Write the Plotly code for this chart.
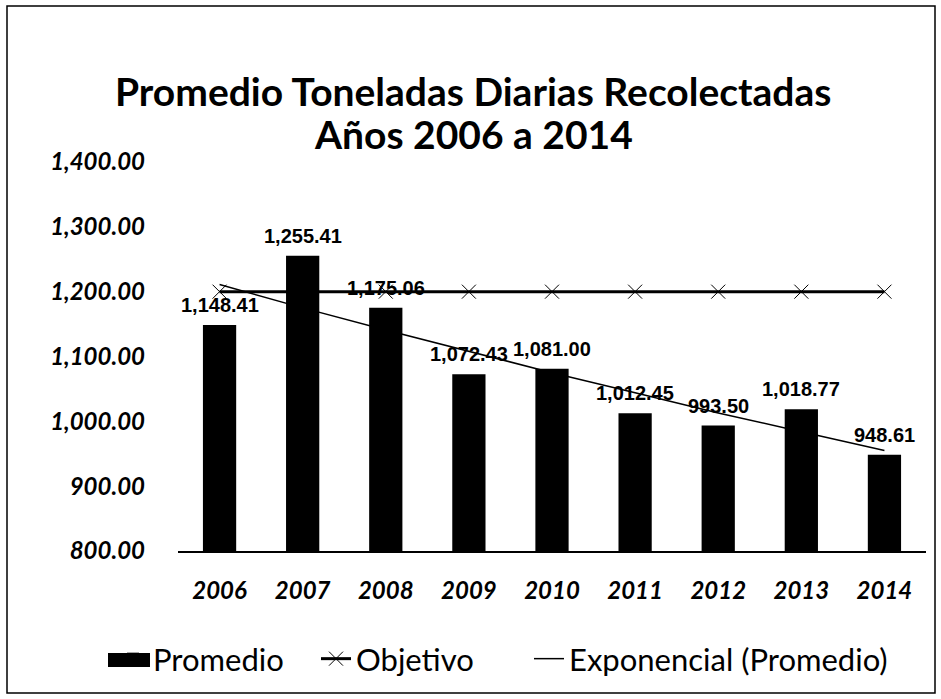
import plotly.graph_objects as go

years = ["2006", "2007", "2008", "2009", "2010", "2011", "2012", "2013", "2014"]
promedio = [1148.41, 1255.41, 1175.06, 1072.43, 1081.00, 1012.45, 993.50, 1018.77, 948.61]
objetivo = [1200, 1200, 1200, 1200, 1200, 1200, 1200, 1200, 1200]
exponencial = [1211, 1175, 1141, 1108, 1075, 1044, 1013, 984, 955]
promedio_labels = ["1,148.41", "1,255.41", "1,175.06", "1,072.43", "1,081.00",
                   "1,012.45", "993.50", "1,018.77", "948.61"]
y_ticks = [800, 900, 1000, 1100, 1200, 1300, 1400]
title_lines = ["Promedio Toneladas Diarias Recolectadas", "Años 2006 a 2014"]

W, H = 941, 699
L, R, T, B = 178, 15, 162, 148
pw = W - L - R
ph = H - T - B


def px_x(xpx):
    return (xpx - L) / pw


def px_y(ypx):
    return ((H - B) - ypx) / ph


fig = go.Figure()
fig.add_trace(go.Bar(x=years, y=promedio, name="Promedio", legend="legend",
                     marker=dict(color="black", line=dict(width=0))))
fig.add_trace(go.Scatter(x=years, y=objetivo, name="Objetivo", mode="lines+markers",
                         legend="legend2",
                         line=dict(color="black", width=3),
                         marker=dict(symbol="x-thin", size=14, color="black",
                                     line=dict(width=1, color="black"))))
fig.add_trace(go.Scatter(x=years, y=exponencial, name="Exponencial (Promedio)", mode="lines",
                         legend="legend3",
                         line=dict(color="black", width=1.5)))

for i, (v, t) in enumerate(zip(promedio, promedio_labels)):
    fig.add_annotation(x=i, y=v, text=t, showarrow=False, yanchor="middle", yshift=20,
                       font=dict(family="Liberation Sans", size=20, color="black", weight="bold"))

for line_text, ypx in zip(title_lines, [91, 134]):
    fig.add_annotation(xref="paper", yref="paper", x=px_x(473), y=px_y(ypx),
                       xanchor="center", yanchor="middle", showarrow=False,
                       text="<b>" + line_text + "</b>",
                       font=dict(family="Lato", size=39, color="black"))

# chart border
fig.add_shape(type="rect", xref="paper", yref="paper",
              x0=px_x(7), x1=px_x(935), y0=px_y(693), y1=px_y(6),
              line=dict(color="black", width=1.5), fillcolor="rgba(0,0,0,0)")
# wide legend key for the bar series (Excel style)
fig.add_shape(type="rect", xref="paper", yref="paper",
              x0=px_x(108), x1=px_x(150), y0=px_y(667), y1=px_y(653),
              line=dict(width=0), fillcolor="black")

leg_font = dict(family="Lato", size=31, color="black")


def leg(xpx):
    return dict(orientation="h", x=px_x(xpx), xanchor="left", y=px_y(659), yanchor="middle",
                font=leg_font, bgcolor="rgba(0,0,0,0)")


fig.update_layout(
    width=W, height=H,
    margin=dict(l=L, r=R, t=T, b=B),
    paper_bgcolor="white", plot_bgcolor="white",
    bargap=0.6,
    showlegend=True,
    legend=leg(113),
    legend2=leg(316),
    legend3=leg(529),
    xaxis=dict(type="category", range=[-0.5, 8.5], showline=True, linecolor="black",
               linewidth=1.5, ticks="",
               tickfont=dict(family="Lato", size=24, color="black", weight="bold", style="italic"),
               ticklabelstandoff=17),
    yaxis=dict(range=[800, 1400], tickvals=y_ticks, tickformat=",.2f",
               showgrid=False, zeroline=False, showline=False, ticks="",
               tickfont=dict(family="Lato", size=24, color="black", weight="bold", style="italic"),
               ticklabelstandoff=32),
)

fig.write_html("out.html", config={"displayModeBar": False},
               post_script="document.body.style.margin='0';")
